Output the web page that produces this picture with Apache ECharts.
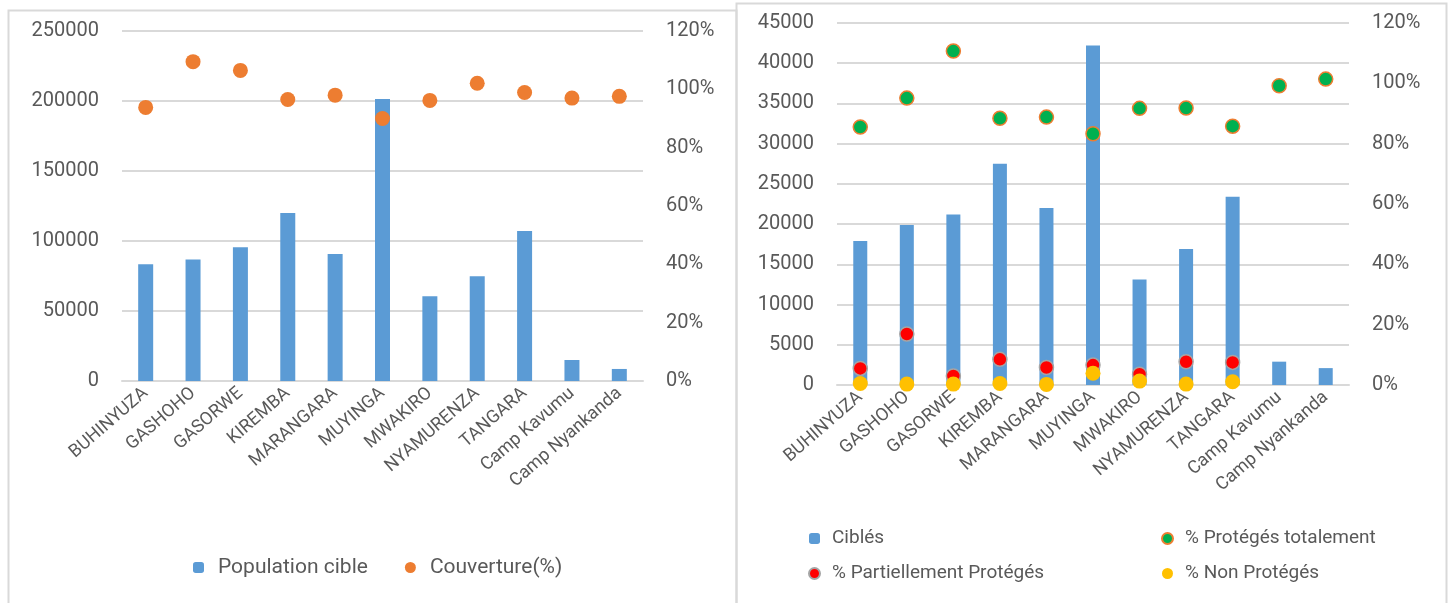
<!DOCTYPE html>
<html>
<head>
<meta charset="utf-8">
<script src="https://cdn.jsdelivr.net/npm/echarts@6/dist/echarts.min.js"></script>
<style>
  html, body { margin: 0; padding: 0; background: #fff; }
  #chart { width: 1450px; height: 603px; }
</style>
</head>
<body>
<div id="chart"></div>
<script>
// data
const communes = ['BUHINYUZA', 'GASHOHO', 'GASORWE', 'KIREMBA', 'MARANGARA', 'MUYINGA',
  'MWAKIRO', 'NYAMURENZA', 'TANGARA', 'Camp Kavumu', 'Camp Nyankanda']

// left chart
const populationCible = [83400, 86700, 95500, 120000, 90700, 201400, 60500, 74800, 107100, 15000, 8600]
const couverture = [93.8, 109.5, 106.5, 96.5, 98.0, 90.0, 96.2, 102.1, 98.9, 97.0, 97.6]

// right chart
const cibles = [17900, 19900, 21200, 27500, 22000, 42200, 13100, 16900, 23400, 2900, 2100]
const protegesTotal = [85.5, 95.1, 110.7, 88.4, 88.8, 83.3, 91.7, 91.8, 85.8, 99.2, 101.4]
const partiellement = [5.5, 16.9, 3.0, 8.5, 5.8, 6.6, 3.6, 7.7, 7.5, null, null]
const nonProteges = [0.5, 0.3, 0.3, 0.5, 0.2, 3.9, 1.3, 0.3, 1.1, null, null]

const textColor = '#595959'
const gridColor = '#d9d9d9'
const font = 'Roboto'

function catAxis(gridIndex) {
  return {
    type: 'category',
    gridIndex: gridIndex,
    data: communes,
    axisLine: { lineStyle: { color: gridColor, width: 2 } },
    axisTick: { show: false },
    axisLabel: { rotate: 41, margin: 10, color: textColor, fontSize: 18, fontFamily: font, interval: 0 }
  }
}

function valAxis(gridIndex, max, interval, pct) {
  return {
    type: 'value',
    gridIndex: gridIndex,
    min: 0,
    max: max,
    interval: interval,
    position: pct ? 'right' : 'left',
    axisLine: { show: false },
    axisTick: { show: false },
    splitLine: { show: !pct, lineStyle: { color: gridColor, width: 2 } },
    axisLabel: {
      margin: 23, color: textColor, fontSize: 20, fontFamily: font,
      formatter: v => pct ? v + '%' : String(v)
    }
  }
}

const chart = echarts.init(document.getElementById('chart'))
chart.setOption({
  animation: false,
  textStyle: { fontFamily: font },
  graphic: [
    { type: 'rect', shape: { x: 8.5, y: 10.5, width: 728, height: 700 },
      style: { fill: 'none', stroke: gridColor, lineWidth: 2 } },
    { type: 'rect', shape: { x: 736.5, y: 3.5, width: 710, height: 700 },
      style: { fill: 'none', stroke: gridColor, lineWidth: 2 } }
  ],
  grid: [
    { left: 122, right: 807, top: 31, bottom: 222 },
    { left: 837, right: 101, top: 23, bottom: 218 }
  ],
  xAxis: [catAxis(0), catAxis(1)],
  yAxis: [
    valAxis(0, 250000, 50000, false),
    valAxis(0, 120, 20, true),
    valAxis(1, 45000, 5000, false),
    valAxis(1, 120, 20, true)
  ],
  legend: [
    {
      data: ['Population cible', 'Couverture(%)'],
      left: 188, top: 552,
      itemWidth: 11, itemHeight: 11, itemGap: 37,
      textStyle: { color: textColor, fontSize: 21, fontFamily: font, padding: [0, 0, 0, 9] }
    },
    {
      data: ['Ciblés', '% Partiellement Protégés'],
      orient: 'vertical',
      left: 803, top: 524,
      itemWidth: 11, itemHeight: 11, itemGap: 16,
      textStyle: { color: textColor, fontSize: 19, fontFamily: font, padding: [0, 0, 0, 7] }
    },
    {
      data: ['% Protégés totalement', '% Non Protégés'],
      orient: 'vertical',
      left: 1156, top: 524,
      itemWidth: 11, itemHeight: 11, itemGap: 16,
      textStyle: { color: textColor, fontSize: 19, fontFamily: font, padding: [0, 0, 0, 7] }
    }
  ],
  series: [
    {
      name: 'Population cible', type: 'bar', xAxisIndex: 0, yAxisIndex: 0,
      barWidth: 15, itemStyle: { color: '#5B9BD5' }, data: populationCible
    },
    {
      name: 'Couverture(%)', type: 'scatter', xAxisIndex: 0, yAxisIndex: 1,
      symbolSize: 15, itemStyle: { color: '#ED7D31', opacity: 1 }, data: couverture
    },
    {
      name: 'Ciblés', type: 'bar', xAxisIndex: 1, yAxisIndex: 2,
      barWidth: 14, itemStyle: { color: '#5B9BD5' }, data: cibles
    },
    {
      name: '% Protégés totalement', type: 'scatter', xAxisIndex: 1, yAxisIndex: 3,
      symbolSize: 14,
      itemStyle: { color: '#00B050', borderColor: '#ED7D31', borderWidth: 1.5, opacity: 1 },
      data: protegesTotal
    },
    {
      name: '% Partiellement Protégés', type: 'scatter', xAxisIndex: 1, yAxisIndex: 3,
      symbolSize: 14,
      itemStyle: { color: '#FF0000', borderColor: '#A5A5A5', borderWidth: 1.5, opacity: 1 },
      data: partiellement
    },
    {
      name: '% Non Protégés', type: 'scatter', xAxisIndex: 1, yAxisIndex: 3,
      symbolSize: 15, itemStyle: { color: '#FFC000', opacity: 1 }, data: nonProteges
    }
  ]
})
</script>
</body>
</html>
